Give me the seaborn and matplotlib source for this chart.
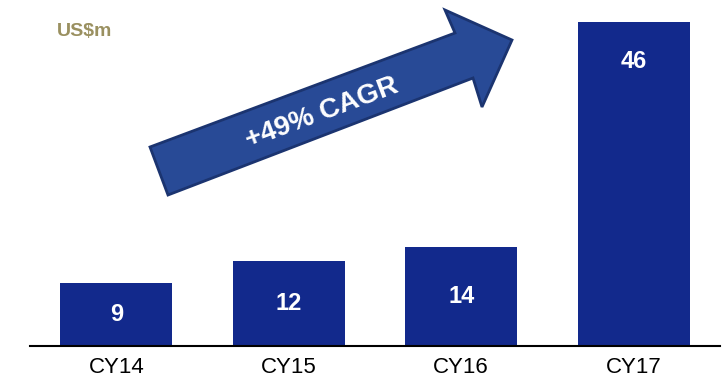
import matplotlib
matplotlib.use("Agg")
import matplotlib.pyplot as plt
import seaborn as sns
import pandas as pd
from matplotlib.patches import Polygon

categories = ["CY14", "CY15", "CY16", "CY17"]
values = [9, 12, 14, 46]
unit_label = "US$m"
cagr_label = "+49% CAGR"

sns.set_theme(style="white")
plt.rcParams['font.family'] = ['Liberation Sans', 'DejaVu Sans']

df = pd.DataFrame({"year": categories, "value": values})

fig = plt.figure(figsize=(7.23, 3.83), dpi=100)
ax = fig.add_axes([30/723, 37/383, 690/723, 346/383])

sns.barplot(data=df, x="year", y="value", color="#12298C", saturation=1,
            width=0.65, ax=ax, edgecolor="none")

ax.set_ylim(0, 49.1)
ax.set_xlim(-0.5, 3.5)
ax.set_xlabel("")
ax.set_ylabel("")
ax.set_yticks([])
for s in ["top", "right", "left"]:
    ax.spines[s].set_visible(False)
ax.spines["bottom"].set_color("black")
ax.spines["bottom"].set_linewidth(1.5)
ax.tick_params(axis="x", length=0, pad=8, labelsize=16, labelcolor="black")

for i, v in enumerate(values):
    y = v / 2 if v < 20 else v - 5.6
    ax.text(i, y, str(v), ha="center", va="center", color="white",
            fontsize=17, fontweight="bold")

# unit label
fig.text(57/723, 1 - 31/383, unit_label, ha="left", va="center",
         color="#9A9060", fontsize=14, fontweight="bold")

# arrow in pixel coords (y from top)
pts = [(150, 147), (455, 33), (445, 10), (512, 40), (482, 107), (473, 78), (168, 195)]
fig_pts = [(x/723, 1 - y/383) for x, y in pts]
arrow = Polygon(fig_pts, closed=True, transform=fig.transFigure,
                facecolor="#284A96", edgecolor="#1B3470", linewidth=2)
fig.patches.append(arrow)

fig.text(322/723, 1 - 113/383, cagr_label, ha="center", va="center",
         rotation=20.5, rotation_mode="anchor", color="white",
         fontsize=20, fontweight="bold")

fig.savefig("out.png", dpi=100)
